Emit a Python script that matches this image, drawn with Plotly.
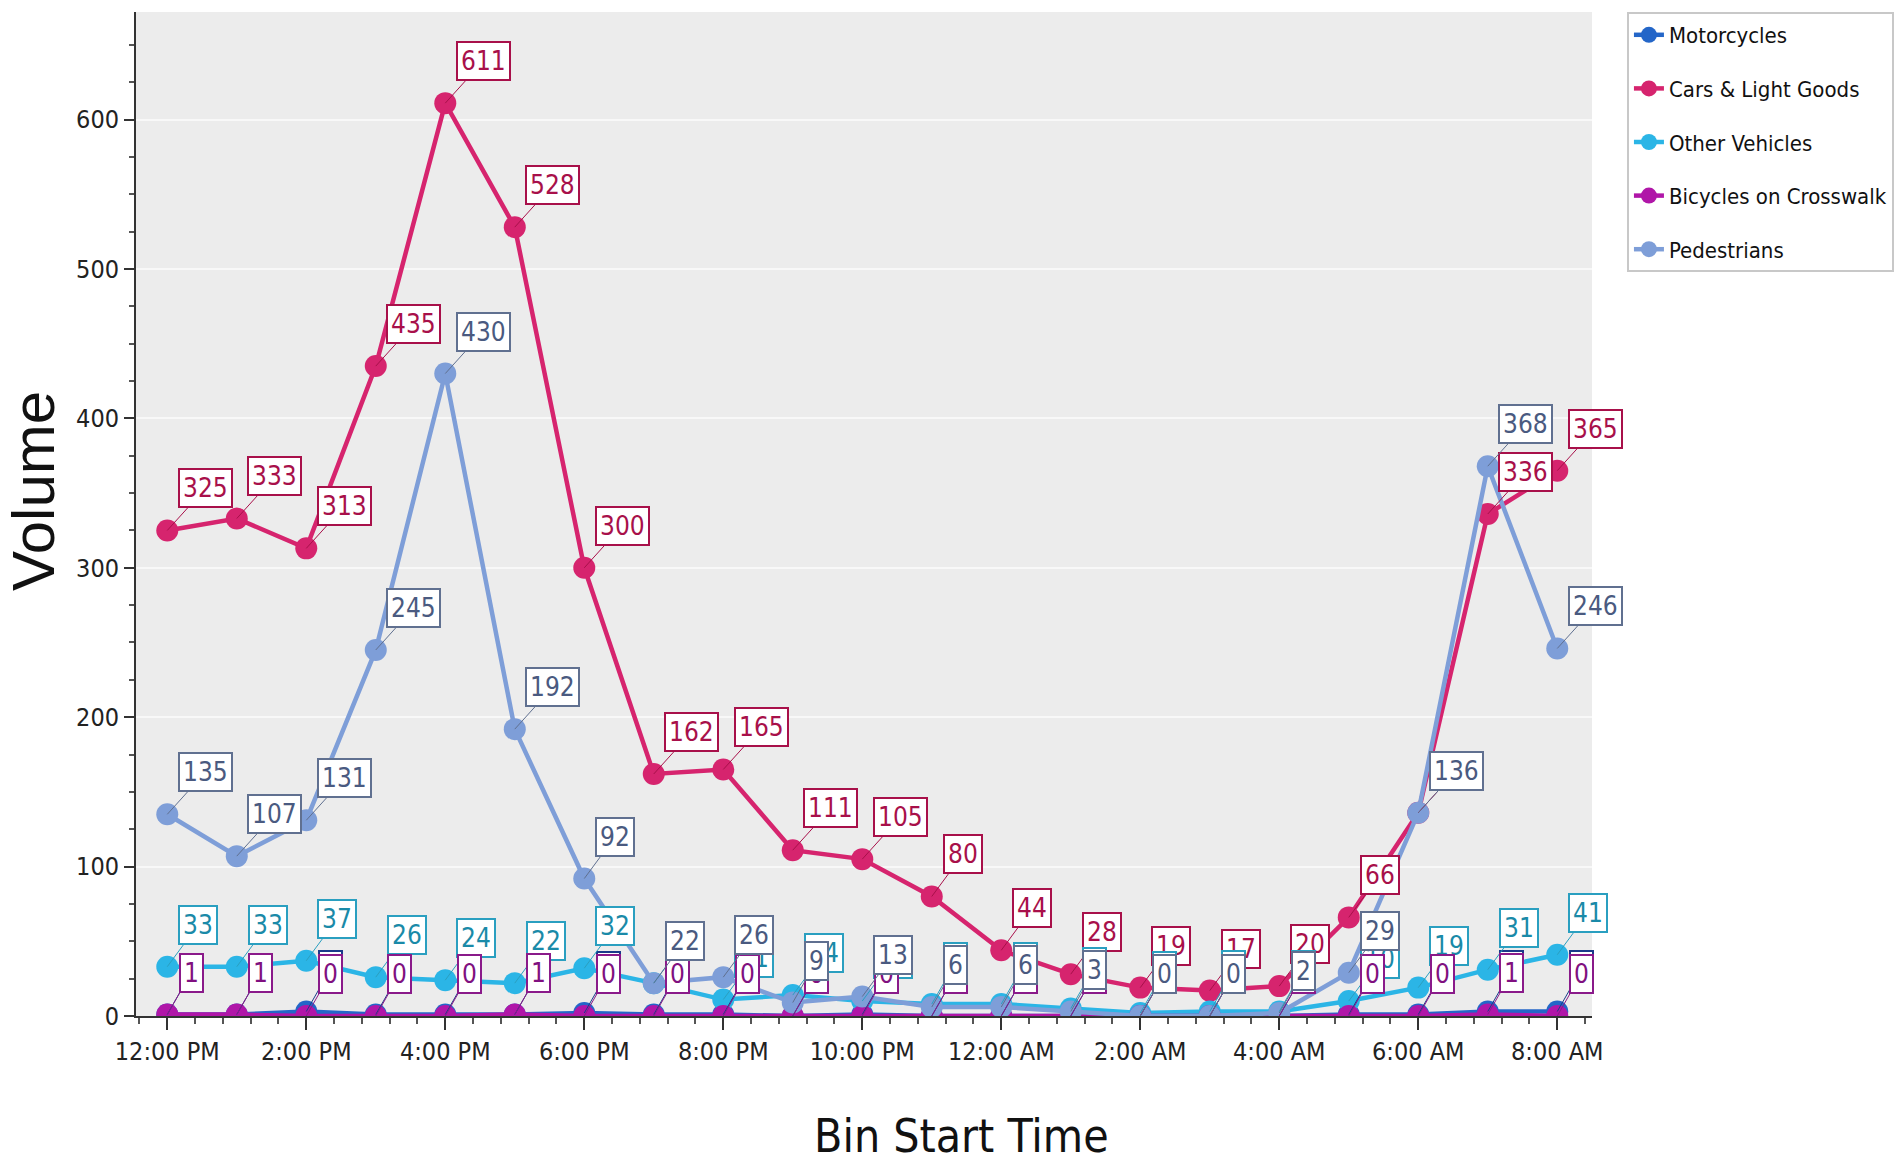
import plotly.graph_objects as go

times = ["12:00 PM", "1:00 PM", "2:00 PM", "3:00 PM", "4:00 PM", "5:00 PM", "6:00 PM",
         "7:00 PM", "8:00 PM", "9:00 PM", "10:00 PM", "11:00 PM", "12:00 AM", "1:00 AM",
         "2:00 AM", "3:00 AM", "4:00 AM", "5:00 AM", "6:00 AM", "7:00 AM", "8:00 AM"]
motorcycles = [1, 1, 3, 1, 1, 1, 2, 1, 1, 0, 1, 0, 0, 0, 0, 0, 0, 1, 1, 3, 3]
cars = [325, 333, 313, 435, 611, 528, 300, 162, 165, 111, 105, 80, 44, 28, 19, 17, 20, 66, 136, 336, 365]
other = [33, 33, 37, 26, 24, 22, 32, 22, 11, 14, 10, 8, 8, 5, 2, 3, 3, 10, 19, 31, 41]
bikes = [1, 1, 0, 0, 0, 1, 0, 0, 0, 0, 0, 0, 0, 0, 0, 0, 0, 0, 0, 1, 0]
peds = [135, 107, 131, 245, 430, 192, 92, 22, 26, 9, 13, 6, 6, 3, 0, 0, 2, 29, 136, 368, 246]

NARROW = "Liberation Sans Narrow, Arial Narrow, DejaVu Sans Condensed, sans-serif"
xs = list(range(len(times)))

series = [
    ("Motorcycles", motorcycles, "#2466c8", "#1a3a8a", "#1a3a8a"),
    ("Cars & Light Goods", cars, "#d6246e", "#a8104a", "#a8104a"),
    ("Other Vehicles", other, "#2bb5e6", "#1a8aa8", "#2a9fc0"),
    ("Bicycles on Crosswalk", bikes, "#b016a8", "#801080", "#8a1a8a"),
    ("Pedestrians", peds, "#7e9ed8", "#4a5a80", "#607090"),
]

fig = go.Figure()
for name, vals, col, tcol, bcol in series:
    fig.add_trace(go.Scatter(
        x=xs, y=vals, name=name, mode="lines+markers",
        line=dict(color=col, width=4.5),
        marker=dict(color=col, size=22, line=dict(width=0)),
        legendgroup=name,
    ))

# label order: motorcycles, cars, other, bikes, pedestrians
for name, vals, col, tcol, bcol in series:
    for x, v in zip(xs, vals):
        s = str(v)
        w = len(s) * 14 + 10
        fig.add_annotation(
            x=x, y=v, xref="x", yref="y", text=s,
            showarrow=True, arrowhead=0, arrowwidth=1, arrowcolor=bcol,
            ax=12 + w / 2, ay=-42,
            font=dict(family=NARROW, size=26, color=tcol),
            bgcolor="white", bordercolor=bcol, borderwidth=2, borderpad=3,
        )

fig.add_annotation(text="Volume", xref="paper", yref="paper", x=-0.070, y=0.523,
                   textangle=-90, showarrow=False, xanchor="center", yanchor="middle",
                   font=dict(family="Liberation Sans, Arial, sans-serif", size=60, color="#111"))
fig.add_annotation(text="Bin Start Time", xref="paper", yref="paper", x=0.567, y=-0.12,
                   showarrow=False, xanchor="center", yanchor="middle",
                   font=dict(family=NARROW, size=46, color="#111"))

fig.update_layout(
    width=1897, height=1164,
    margin=dict(l=136, r=305, t=12, b=148, autoexpand=False),
    paper_bgcolor="white", plot_bgcolor="#ececec",
    showlegend=True,
    legend=dict(x=1.024, y=1.0, xanchor="left", yanchor="top",
                font=dict(family=NARROW, size=22, color="#111"),
                bgcolor="white", bordercolor="#c8c8c8", borderwidth=2,
                tracegroupgap=22, traceorder="grouped", itemwidth=30),
    xaxis=dict(range=[-0.45, 20.5], tickmode="array", tickvals=xs[::2], ticktext=times[::2],
               showgrid=False, zeroline=False, showline=True, linecolor="#333", linewidth=2,
               ticks="outside", ticklen=12, tickcolor="#333", tickwidth=1.5,
               minor=dict(dtick=0.4, tick0=0, ticks="outside", ticklen=6, tickcolor="#555", showgrid=False),
               tickfont=dict(family=NARROW, size=25, color="#222")),
    yaxis=dict(range=[0, 672], tickmode="array", tickvals=[0, 100, 200, 300, 400, 500, 600],
               showgrid=True, gridcolor="#f8f8f8", gridwidth=2, zeroline=False,
               showline=True, linecolor="#333", linewidth=2,
               ticks="outside", ticklen=10, tickcolor="#333", tickwidth=1.5,
               minor=dict(dtick=25, tick0=0, ticks="outside", ticklen=5, tickcolor="#555", showgrid=False),
               tickfont=dict(family=NARROW, size=25, color="#222")),
)

fig.write_html("out.html")
